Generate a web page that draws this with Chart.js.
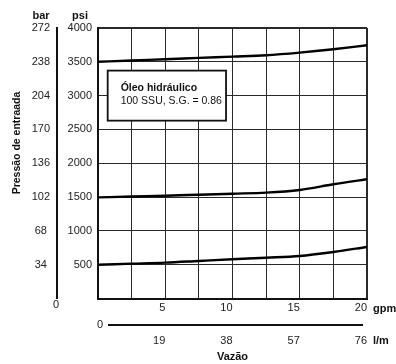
<!DOCTYPE html>
<html><head><meta charset="utf-8">
<script src="https://cdn.jsdelivr.net/npm/chart.js@4/dist/chart.umd.min.js"></script>
<style>html,body{margin:0;padding:0;background:#fff}</style>
</head><body>
<canvas id="c" width="396" height="364"></canvas>
<script>
// ---- data ----
const flowGpm = [0, 2.5, 5, 7.5, 10, 12.5, 15, 17.5, 20];
const psiHigh = [3500, 3520, 3538, 3558, 3577, 3597, 3636, 3686, 3745];
const psiMid  = [1495, 1508, 1520, 1535, 1550, 1565, 1605, 1689, 1763];
const psiLow  = [500, 515, 530, 555, 580, 603, 629, 688, 762];
const gpmTicks = [5, 10, 15, 20];
const lpmTicks = [19, 38, 57, 76];
const psiTicks = [500, 1000, 1500, 2000, 2500, 3000, 3500, 4000];
const barTicks = [34, 68, 102, 136, 170, 204, 238, 272];
const yTitle = 'Pressão de entraada';
const xTitle = 'Vazão';
const unitBar = 'bar', unitPsi = 'psi', unitGpm = 'gpm', unitLpm = 'l/m';
const noteTitle = 'Óleo hidráulico';
const noteText = '100 SSU, S.G. = 0.86';
const noteBox = {x0: 0.72, x1: 9.52, yTop: 3370, yBottom: 2630}; // in data units

const FONT = "'Liberation Sans',Arial,sans-serif";
Chart.defaults.font.family = FONT;
Chart.defaults.font.size = 11;
Chart.defaults.color = '#222';

function series(vals){ return flowGpm.map((x,i)=>({x:x, y:vals[i]})); }
const lineStyle = {borderColor:'#000', borderWidth:2.4, pointRadius:0, fill:false, cubicInterpolationMode:'monotone'};

const extras = {
  id:'extras',
  afterDraw(chart){
    const ctx = chart.ctx, xs = chart.scales.x, ys = chart.scales.y;
    ctx.save();
    ctx.fillStyle = '#111';
    ctx.textBaseline = 'middle';
    ctx.textAlign = 'center';
    ctx.font = 'bold 11px ' + FONT;
    ctx.fillText(unitBar, 41, 16);
    ctx.fillText(unitPsi, 80, 16);
    ctx.textAlign = 'left';
    ctx.fillText(unitGpm, 373, 309);
    ctx.fillText(unitLpm, 373, 341);
    // y title
    ctx.save();
    ctx.translate(17, 143);
    ctx.rotate(-Math.PI/2);
    ctx.textAlign = 'center';
    ctx.font = 'bold 10.5px ' + FONT;
    ctx.fillText(yTitle, 0, 0);
    ctx.restore();
    // zeros
    ctx.font = '11px ' + FONT;
    ctx.fillStyle = '#222';
    ctx.textAlign = 'center';
    ctx.fillText('0', 56, 304.5);
    ctx.fillText('0', 100, 324.5);
    // flow divider line
    ctx.strokeStyle = '#111';
    ctx.lineWidth = 2;
    ctx.beginPath();
    ctx.moveTo(xs.getPixelForValue(0) + 10, 325);
    ctx.lineTo(xs.getPixelForValue(20) - 4, 325);
    ctx.stroke();
    // note box
    const bx0 = xs.getPixelForValue(noteBox.x0), bx1 = xs.getPixelForValue(noteBox.x1);
    const by0 = ys.getPixelForValue(noteBox.yTop), by1 = ys.getPixelForValue(noteBox.yBottom);
    ctx.fillStyle = '#fff';
    ctx.fillRect(bx0, by0, bx1 - bx0, by1 - by0);
    ctx.lineWidth = 1.8;
    ctx.strokeStyle = '#111';
    ctx.strokeRect(bx0, by0, bx1 - bx0, by1 - by0);
    ctx.fillStyle = '#111';
    ctx.textAlign = 'left';
    ctx.font = 'bold 10.5px ' + FONT;
    ctx.fillText(noteTitle, bx0 + 13, by0 + 17.5);
    ctx.font = '10.5px ' + FONT;
    ctx.fillText(noteText, bx0 + 13, by0 + 31);
    ctx.restore();
  }
};

new Chart(document.getElementById('c'), {
  type:'line',
  data:{datasets:[
    Object.assign({data:series(psiHigh)}, lineStyle),
    Object.assign({data:series(psiMid)}, lineStyle),
    Object.assign({data:series(psiLow)}, lineStyle)
  ]},
  options:{
    responsive:false, animation:false, devicePixelRatio:1,
    layout:{padding:{top:28, right:29, left:0, bottom:0}},
    plugins:{legend:{display:false}, tooltip:{enabled:false}},
    scales:{
      x:{type:'linear', position:'bottom', min:0, max:20,
        ticks:{stepSize:2.5, autoSkip:false, maxRotation:0, align:'end', padding:3,
          callback:(v)=> gpmTicks.includes(v) ? String(v) : ''},
        grid:{color:'#2a2a2a', drawTicks:false, lineWidth:(c)=> c.tick && c.tick.value===20 ? 2 : 1},
        border:{display:true, color:'#111', width:2},
        afterFit:(s)=>{ s.height = 25.5; }
      },
      x2:{type:'linear', position:'bottom', min:0, max:76,
        ticks:{stepSize:19, autoSkip:false, maxRotation:0, align:'end', padding:10,
          callback:(v)=> lpmTicks.includes(v) ? String(v) : ''},
        grid:{display:false, drawTicks:false},
        border:{display:false},
        title:{display:true, text:xTitle, color:'#111', font:{weight:'bold', size:11}, padding:{top:0,bottom:0}},
        afterFit:(s)=>{ s.height = 40; }
      },
      y:{type:'linear', position:'left', min:0, max:4000,
        ticks:{stepSize:500, padding:6, callback:(v)=> psiTicks.includes(v) ? String(v) : ''},
        grid:{color:'#2a2a2a', drawTicks:false, lineWidth:(c)=> c.tick && c.tick.value===4000 ? 2 : 1},
        border:{display:true, color:'#111', width:2},
        afterFit:(s)=>{ s.width = 41; }
      },
      y2:{type:'linear', position:'left', min:0, max:272,
        ticks:{stepSize:34, padding:7, crossAlign:'center', callback:(v)=> barTicks.includes(v) ? String(v) : ''},
        grid:{drawOnChartArea:false, drawTicks:false},
        border:{display:true, color:'#111', width:2},
        afterFit:(s)=>{ s.width = 57; }
      }
    }
  },
  plugins:[extras]
});
</script>
</body></html>
